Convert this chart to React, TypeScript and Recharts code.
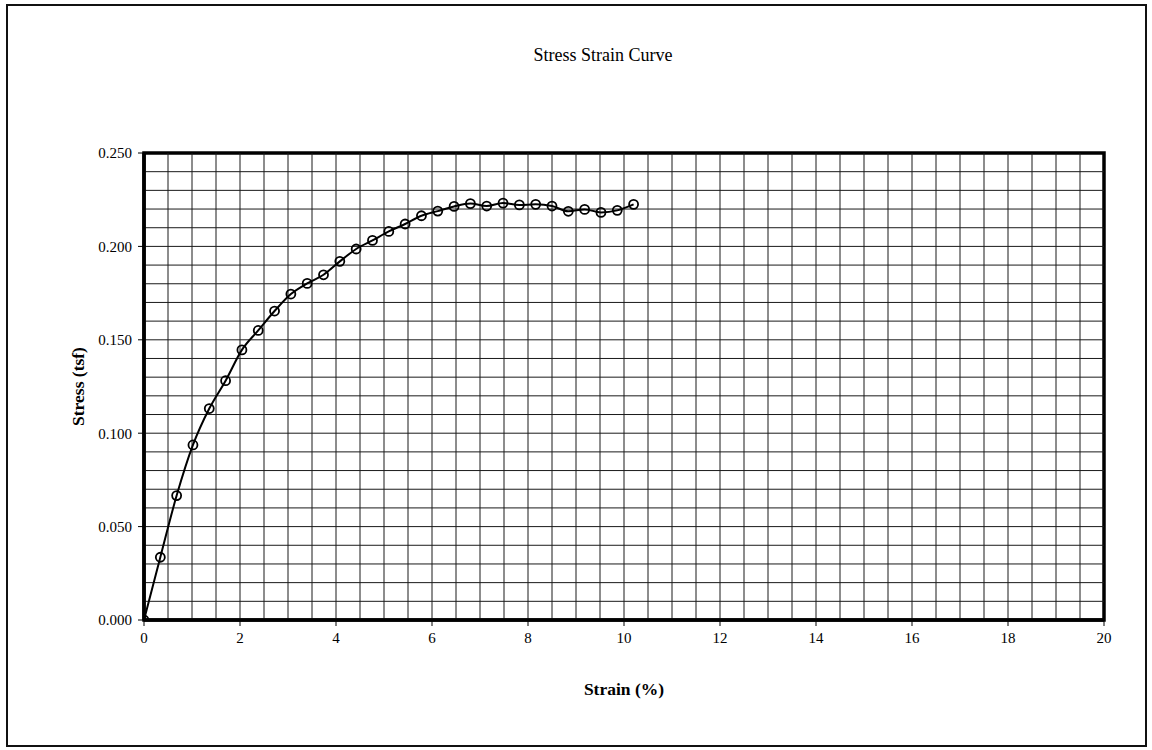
import { LineChart, Line, XAxis, YAxis, ReferenceLine, ReferenceArea, Label } from 'recharts'

// strain (%) at each reading
const strain = [
  0, 0.34, 0.68, 1.02, 1.36, 1.7, 2.04, 2.38, 2.72, 3.06, 3.4, 3.74, 4.08, 4.42, 4.76, 5.1,
  5.44, 5.78, 6.12, 6.46, 6.8, 7.14, 7.48, 7.82, 8.16, 8.5, 8.84, 9.18, 9.52, 9.86, 10.2,
]

// stress (tsf)
const stress = [
  0, 0.0336, 0.0666, 0.0937, 0.1132, 0.1281, 0.1446, 0.155, 0.1654, 0.1745, 0.1802, 0.1848,
  0.192, 0.1986, 0.2032, 0.208, 0.212, 0.2164, 0.2189, 0.2214, 0.2229, 0.2216, 0.2232, 0.2222,
  0.2225, 0.2216, 0.2188, 0.2198, 0.2182, 0.2193, 0.2225,
]

const xTicks = [0, 2, 4, 6, 8, 10, 12, 14, 16, 18, 20]
const yTicks = [0, 0.05, 0.1, 0.15, 0.2, 0.25]

const W = 1152
const H = 750
const FONT = '"Liberation Serif", "Times New Roman", serif'

export default function App() {
  const data = strain.map((s, i) => ({ strain: s, stress: stress[i] }))

  // minor grid every 0.5 % strain and every 0.01 tsf
  const vGrid = Array.from({ length: 39 }, (_, i) => (i + 1) * 0.5)
  const hGrid = Array.from({ length: 24 }, (_, i) => Math.round((i + 1) * 10) / 1000)

  return (
    <div style={{ position: 'absolute', left: 0, top: 0, width: W, height: H, background: '#fff', fontFamily: FONT }}>
      <div
        style={{
          position: 'absolute',
          left: 6,
          top: 4,
          width: 1141,
          height: 743,
          border: '2px solid #111',
          boxSizing: 'border-box',
        }}
      />
      <div
        style={{
          position: 'absolute',
          left: 0,
          width: 1206,
          top: 45,
          textAlign: 'center',
          fontSize: 18,
          color: '#000',
        }}
      >
        Stress Strain Curve
      </div>
      <div style={{ position: 'absolute', left: 0, top: 0 }}>
        <LineChart width={W} height={H} data={data} margin={{ top: 153, right: 48, bottom: 100, left: 84 }}>
          {vGrid.map((v) => (
            <ReferenceLine key={'v' + v} x={v} stroke="#1a1a1a" strokeWidth={1} />
          ))}
          {hGrid.map((v) => (
            <ReferenceLine key={'h' + v} y={v} stroke="#1a1a1a" strokeWidth={1} />
          ))}
          <XAxis
            type="number"
            dataKey="strain"
            domain={[0, 20]}
            ticks={xTicks}
            allowDataOverflow
            height={30}
            tick={{ fill: '#000', fontSize: 15, fontFamily: FONT }}
            tickLine={{ stroke: '#000' }}
            tickSize={6}
            tickMargin={6}
            axisLine={{ stroke: '#000', strokeWidth: 3.5 }}
          >
            <Label
              value="Strain (%)"
              position="bottom"
              offset={33}
              style={{ fontSize: 17.5, fontWeight: 'bold', fill: '#000', fontFamily: FONT }}
            />
          </XAxis>
          <YAxis
            type="number"
            domain={[0, 0.25]}
            ticks={yTicks}
            allowDataOverflow
            width={60}
            tickFormatter={(v: number) => v.toFixed(3)}
            tick={{ fill: '#000', fontSize: 15, fontFamily: FONT }}
            tickLine={{ stroke: '#000' }}
            tickSize={6}
            tickMargin={6}
            axisLine={{ stroke: '#000', strokeWidth: 3.5 }}
          >
            <Label
              value="Stress (tsf)"
              position="center"
              angle={-90}
              dx={-36}
              style={{ fontSize: 17.5, fontWeight: 'bold', fill: '#000', fontFamily: FONT, textAnchor: 'middle' }}
            />
          </YAxis>
          <ReferenceArea x1={0} x2={20} y1={0} y2={0.25} fill="none" stroke="#000" strokeWidth={3.5} />
          <Line
            type="monotone"
            dataKey="stress"
            stroke="#000"
            strokeWidth={2}
            dot={{ r: 4.5, fill: 'none', stroke: '#000', strokeWidth: 1.8 }}
            activeDot={false}
            isAnimationActive={false}
          />
        </LineChart>
      </div>
    </div>
  )
}
